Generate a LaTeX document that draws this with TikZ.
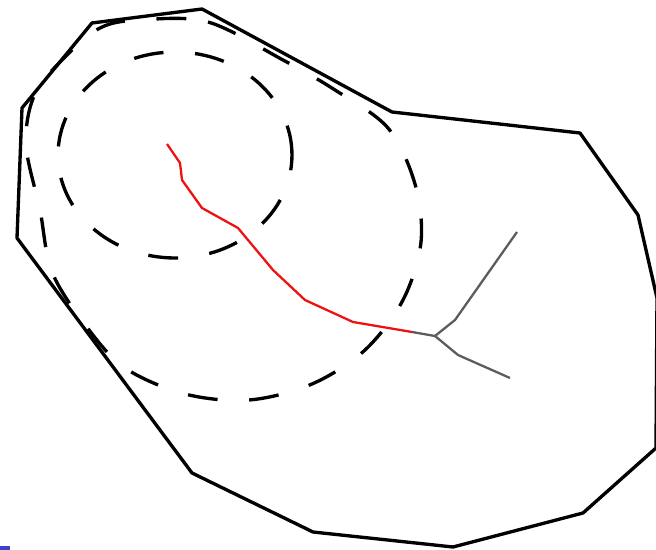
\documentclass[tikz,border=0pt]{standalone}
\usepackage{xcolor}
\usepackage{tikz}
\usetikzlibrary{calc}
\definecolor{axisred}{HTML}{EE1111}
\definecolor{branchgray}{HTML}{5C5C5C}
\definecolor{slideblue}{HTML}{3A44C4}
\tikzset{
  outline/.style={draw=black, line width=1.9pt, line join=round},
  disc/.style={draw=black, line width=1.9pt, dash pattern=on 17pt off 18pt},
  redpath/.style={draw=axisred, line width=1.3pt, line join=round},
  graypath/.style={draw=branchgray, line width=1.3pt, line join=round}
}

\begin{document}
\begin{tikzpicture}[x=0.02cm, y=-0.02cm]
 \useasboundingbox (0,0) rectangle (656,550);
 % outer polygon
 \draw[outline] (202,9) -- (392,112) -- (580,133) -- (638,215) -- (657,298) -- (656,448)
   -- (583,513) -- (453,547) -- (313,532) -- (192,473) -- (17,238) -- (22,108) -- (92,23) -- cycle;
 % dashed discs
 \draw[disc] (175,155) ellipse [x radius=2.34cm, y radius=2.06cm];
 \draw[disc] plot[smooth cycle, tension=0.55] coordinates {
   (140,20) (208,22) (283,60) (335,90) (388,128) (415,184) (421,242) (403,300)
   (365,350) (312,384) (249,400) (185,394) (125,368) (86,326) (52,272) (40,210)
   (26,145) (34,96) (62,60) (100,28)};
 % skeleton
 \coordinate (start) at (167,144);
 \coordinate (tip) at (412,332);
 \coordinate (junc) at (435,336);
 \draw[redpath] (start) -- (180,163) -- (182,180) -- (202,208) -- (238,228) -- (273,270)
   -- (305,300) -- (353,322) -- (tip);
 \draw[graypath] (tip) -- (junc);
 \draw[graypath] (junc) -- (455,320) -- (517,232);
 \draw[graypath] (junc) -- (458,355) -- (510,378);
 \fill[slideblue] (0,546) rectangle (10,550);
\end{tikzpicture}
\end{document}
